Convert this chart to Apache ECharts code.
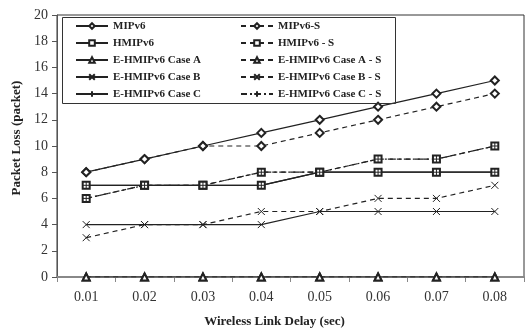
<!DOCTYPE html>
<html lang="en">
<head>
    <meta charset="UTF-8">
    <title>Packet Loss</title>
    <script src="https://cdn.jsdelivr.net/npm/echarts@6/dist/echarts.min.js"></script>
    <style>
        *{margin:0;padding:0;}
        #main{width:527px;height:330px;background:#fff;}
    </style>
</head>
<body>
<div id="main"></div>
<script>
    // wireless link delay (sec)
    var delays = ['0.01','0.02','0.03','0.04','0.05','0.06','0.07','0.08'];
    var mip      = [8, 9, 10, 11, 12, 13, 14, 15];
    var mipS     = [8, 9, 10, 10, 11, 12, 13, 14];
    var hmip     = [7, 7, 7, 7, 8, 8, 8, 8];
    var hmipS    = [6, 7, 7, 8, 8, 9, 9, 10];
    var caseA    = [0, 0, 0, 0, 0, 0, 0, 0];
    var caseAS   = [0, 0, 0, 0, 0, 0, 0, 0];
    var caseB    = [4, 4, 4, 4, 5, 5, 5, 5];
    var caseBS   = [3, 4, 4, 5, 5, 6, 6, 7];
    var caseC    = [7, 7, 7, 7, 8, 8, 8, 8];
    var caseCS   = [6, 7, 7, 8, 8, 9, 9, 10];
    var yTicks   = [0, 20, 2];

    var serif = 'Liberation Serif';
    var ink = '#222';
    var xMark = 'path://M0,0L10,10M10,0L0,10';
    var plusMark = 'path://M5,0L5,10M0,5L10,5';

    function mk(name, data, symbol, dash, size){
        return {
            name: name, type: 'line', data: data,
            symbol: symbol, symbolSize: size || 7,
            showAllSymbol: true,
            lineStyle: {color: ink, width: 1.2, type: dash},
            itemStyle: {color: symbol.indexOf('path') === 0 ? 'rgba(0,0,0,0)' : ink,
                        borderColor: ink, borderWidth: 1},
            emphasis: {disabled: true},
            animation: false
        };
    }

    var solidNames = ['MIPv6','HMIPv6','E-HMIPv6 Case A','E-HMIPv6 Case B','E-HMIPv6 Case C'];
    var dashNames = ['MIPv6-S','HMIPv6 - S','E-HMIPv6 Case A - S','E-HMIPv6 Case B - S','E-HMIPv6 Case C - S'];

    var chart = echarts.init(document.getElementById('main'));
    var legendBase = {
        orient: 'vertical', top: 19, itemWidth: 32, itemHeight: 7, itemGap: 3,
        padding: 0,
        textStyle: {fontFamily: serif, fontWeight: 'bold', fontSize: 11, color: ink, lineHeight: 14},
        selectedMode: false
    };
    chart.setOption({
        backgroundColor: '#fff',
        grid: {left: 57, right: 3, top: 15, bottom: 53, show: true,
               outerBoundsMode: 'none', containLabel: false,
               borderColor: '#333', borderWidth: 1},
        legend: [
            Object.assign({}, legendBase, {left: 75, data: solidNames}),
            Object.assign({}, legendBase, {left: 240, data: dashNames})
        ],
        graphic: [{type: 'rect', left: 60, top: 15,
                   shape: {width: 333, height: 86},
                   style: {fill: 'none', stroke: '#333', lineWidth: 1}, z: 100}],
        xAxis: {
            type: 'category', data: delays, boundaryGap: true,
            name: 'Wireless Link Delay (sec)', nameLocation: 'middle', nameGap: 38,
            nameTextStyle: {fontFamily: serif, fontWeight: 'bold', fontSize: 13, color: ink,
                            padding: [0, 32, 0, 0]},
            axisLine: {lineStyle: {color: '#888', width: 2}},
            axisTick: {show: true, length: 5, lineStyle: {color: '#888'}},
            axisLabel: {fontFamily: serif, fontSize: 14, color: '#333', margin: 13}
        },
        yAxis: {
            type: 'value', min: yTicks[0], max: yTicks[1], interval: yTicks[2],
            name: 'Packet Loss (packet)', nameLocation: 'middle', nameGap: 34,
            nameTextStyle: {fontFamily: serif, fontWeight: 'bold', fontSize: 13, color: ink,
                            padding: [0, 0, 0, 16]},
            axisLine: {show: true, lineStyle: {color: '#555'}},
            axisTick: {show: true, length: 5, lineStyle: {color: '#555'}},
            axisLabel: {fontFamily: serif, fontSize: 14, color: '#333', margin: 9},
            splitLine: {show: false}
        },
        series: [
            mk('MIPv6', mip, 'emptyDiamond', 'solid', 8),
            mk('HMIPv6', hmip, 'emptyRect', 'solid'),
            mk('E-HMIPv6 Case A', caseA, 'emptyTriangle', 'solid'),
            mk('E-HMIPv6 Case B', caseB, xMark, 'solid'),
            mk('E-HMIPv6 Case C', caseC, plusMark, 'solid'),
            mk('MIPv6-S', mipS, 'emptyDiamond', [5, 4], 8),
            mk('HMIPv6 - S', hmipS, 'emptyRect', [5, 4]),
            mk('E-HMIPv6 Case A - S', caseAS, 'emptyTriangle', [5, 4]),
            mk('E-HMIPv6 Case B - S', caseBS, xMark, [5, 4]),
            mk('E-HMIPv6 Case C - S', caseCS, plusMark, [6, 3, 2, 3])
        ]
    });
</script>
</body>
</html>
